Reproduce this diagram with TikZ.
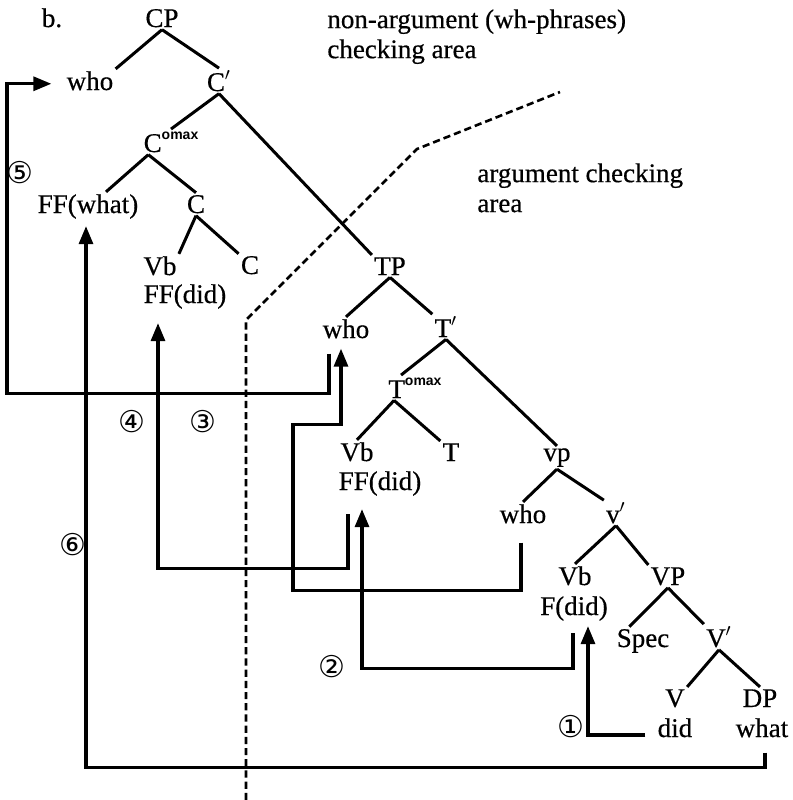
\documentclass[tikz,border=0pt]{standalone}
\usepackage{fontspec}
\setmainfont{Liberation Serif}[FakeBold=0.5]
\newfontfamily\circfont{DejaVu Sans}
\newfontfamily\supfont{Liberation Sans}
\usepackage{tikz}
\usetikzlibrary{positioning, arrows.meta, calc}
\definecolor{ink}{HTML}{000000}
\newcommand{\omx}{\raisebox{6.5pt}{\supfont\bfseries\fontsize{7}{7}\selectfont omax}}
\tikzset{
  lbl/.style     = {anchor=base, inner sep=1pt, text=ink,
                    font=\fontsize{13.5}{15}\selectfont},
  area/.style    = {anchor=north west, inner sep=0pt, align=left, text=ink,
                    font=\fontsize{13.5}{15}\selectfont},
  num/.style     = {inner sep=0pt, text=ink, font=\circfont\fontsize{15}{15}\selectfont},
  branch/.style  = {draw=ink, line width=1.5pt},
  mv/.style      = {draw=ink, line width=1.6pt, -{Triangle[length=9pt,width=7pt]}},
  divider/.style = {draw=ink, line width=1.3pt, dash pattern=on 3.6pt off 2pt},
}

\begin{document}
\begin{tikzpicture}[x=0.5pt, y=-0.5pt]
  \useasboundingbox (0,0) rectangle (793,800);

  \draw[divider] (246,800) -- (246,320) -- (417,149) -- (560,92);

  \node[area] (nonarg) at (327,9) {non-argument (wh-phrases)\\checking area};
  \node[area] (argarea) at (477,163) {argument checking\\area};

  \node[lbl] (bmark)  at (52,27)   {b.};
  \node[lbl] (cp)     at (162,27)  {CP};
  \node[lbl] (whoc)   at (90,90)   {who};
  \node[lbl] (cbar)   at (219,91)  {C$'$};
  \node[lbl] (comax)  at (171,152) {C\omx};
  \node[lbl] (ffwhat) at (88,213)  {FF(what)};
  \node[lbl] (cc)     at (196,213) {C};
  \node[lbl] (vbc)    at (160,275) {Vb};
  \node[lbl] (chead)  at (250,274) {C};
  \node[lbl] (ffdidc) at (185,303) {FF(did)};
  \node[lbl] (tp)     at (390,275) {TP};
  \node[lbl] (whot)   at (346,338) {who};
  \node[lbl] (tbar)   at (446,337) {T$'$};
  \node[lbl] (tomax)  at (415,398) {T\omx};
  \node[lbl] (vbt)    at (357,461) {Vb};
  \node[lbl] (thead)  at (451,461) {T};
  \node[lbl] (ffdidt) at (380,490) {FF(did)};
  \node[lbl] (vsmall) at (557,461) {vp};
  \node[lbl] (whov)   at (523,523) {who};
  \node[lbl] (vbar)   at (616,523) {v$'$};
  \node[lbl] (vbv)    at (575,585) {Vb};
  \node[lbl] (vbig)   at (668,585) {VP};
  \node[lbl] (fdid)   at (574,615) {F(did)};
  \node[lbl] (spec)   at (643,647) {Spec};
  \node[lbl] (vbar2)  at (719,647) {V$'$};
  \node[lbl] (vhead)  at (675,707) {V};
  \node[lbl] (dp)     at (760,707) {DP};
  \node[lbl] (did)    at (675,737) {did};
  \node[lbl] (what)   at (762,737) {what};

  \draw[branch] (cp.south) -- (whoc.north east);
  \draw[branch] (cp.south) -- (cbar.north);
  \draw[branch] (cbar.south) -- (comax.north);
  \draw[branch] (cbar.south) -- (tp.north west);
  \draw[branch] ($(comax.south west)+(7,0)$) -- ($(ffwhat.north)+(18,0)$);
  \draw[branch] ($(comax.south west)+(7,0)$) -- (cc.north);
  \draw[branch] (cc.south) -- (vbc.north east);
  \draw[branch] (cc.south) -- (chead.north west);
  \draw[branch] (tp.south) -- (whot.north);
  \draw[branch] (tp.south) -- (tbar.north west);
  \draw[branch] (tbar.south) -- ($(tomax.north west)+(15,0)$);
  \draw[branch] (tbar.south) -- (vsmall.north);
  \draw[branch] ($(tomax.south west)+(8,0)$) -- (vbt.north);
  \draw[branch] ($(tomax.south west)+(8,0)$) -- (thead.north west);
  \draw[branch] (vsmall.south) -- (whov.north);
  \draw[branch] (vsmall.south) -- (vbar.north west);
  \draw[branch] (vbar.south) -- (vbv.north);
  \draw[branch] (vbar.south) -- (vbig.north west);
  \draw[branch] (vbig.south) -- ($(spec.north west)+(15,0)$);
  \draw[branch] (vbig.south) -- (vbar2.north west);
  \draw[branch] (vbar2.south) -- (vhead.north east);
  \draw[branch] (vbar2.south) -- (dp.north);

  \draw[mv] ($(did.base west)+(-10,-2)$) -| ($(fdid.south)+(14,3)$);
  \draw[mv] ($(fdid.south)+(-1,10)$) -- ++(0,35) -| ($(ffdidt.south)+(-18,11)$);
  \draw[mv] ($(whov.south)+(-2,17)$) -- ++(0,48) -- ++(-228,0) -- ++(0,-166)
            -| ($(whot.south)+(-5,8)$);
  \draw[mv] ($(ffdidt.south)+(-32,16)$) -- ++(0,54) -| ($(ffdidc.south)+(-27,12)$);
  \draw[mv] ($(whot.south)+(-17,13)$) -- ++(0,40) -- ++(-322,0) |- ($(whoc.west)+(-13,3)$);
  \draw[mv] ($(what.south)+(3,13)$) -- ++(0,15) -| ($(ffwhat.south)+(-2,5)$);

  \node[num] (n1) at (571,727) {①};
  \node[num] (n2) at (332,667) {②};
  \node[num] (n3) at (203,422) {③};
  \node[num] (n4) at (132,422) {④};
  \node[num] (n5) at (20,173)  {⑤};
  \node[num] (n6) at (73,545)  {⑥};

\end{tikzpicture}
\end{document}
